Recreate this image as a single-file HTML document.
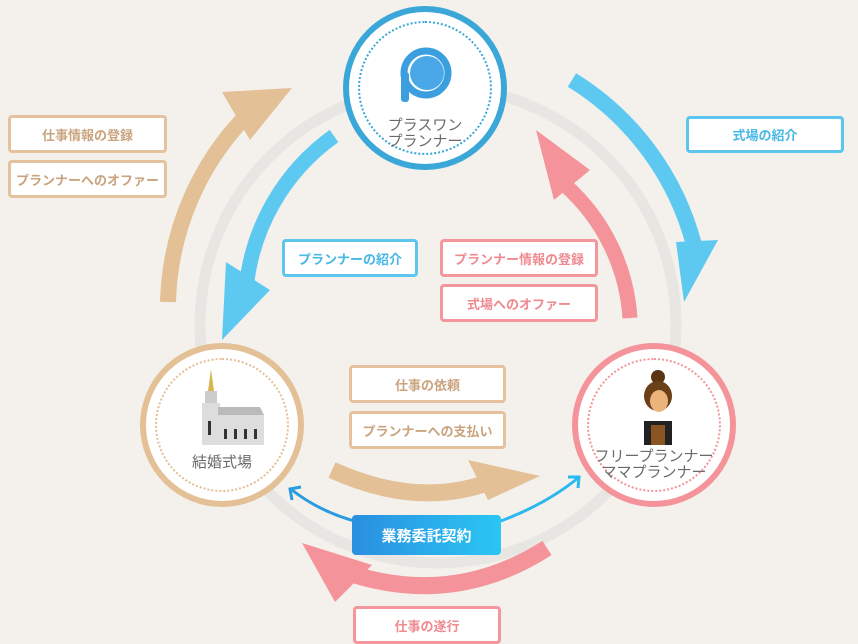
<!DOCTYPE html>
<html><head><meta charset="utf-8"><style>
body{margin:0;width:858px;height:644px;background:#f4f1ed;overflow:hidden;font-family:"Liberation Sans","Noto Sans CJK JP",sans-serif;position:relative}
.b{position:absolute;box-sizing:border-box;border:3px solid;border-radius:4px;background:#fff;display:flex;align-items:center;justify-content:center;font-size:13px;font-weight:bold}
.t{border-color:#e4c29e;color:#c9a47e}.bl{border-color:#5cc6ee;color:#48b8e6}.p{border-color:#f4979c;color:#ef8a90}
.c{position:absolute;width:164px;height:164px;border-radius:50%;background:#fff;box-sizing:border-box;border:6px solid}
.c .in{position:absolute;left:9px;top:9px;right:9px;bottom:9px;border-radius:50%;border:2px dotted}
.lbl{position:absolute;width:100%;text-align:center;color:#6a6a6a;font-size:15px;line-height:16px}
</style></head><body>
<svg width="858" height="644" style="position:absolute;left:0;top:0">
<circle cx="438" cy="325" r="238" fill="none" stroke="#e8e6e3" stroke-width="11"/>
<path d="M168 302 A278 278 0 0 1 250 112" fill="none" stroke="#e3c095" stroke-width="16"/>
<polygon points="222,92 292,88 250,140" fill="#e3c095"/>
<path d="M334 136 A212 212 0 0 0 246 290" fill="none" stroke="#5ec9f0" stroke-width="15"/>
<polygon points="222,340 226,262 270,290" fill="#5ec9f0"/>
<path d="M572 80 A276 276 0 0 1 694 245" fill="none" stroke="#5ec9f0" stroke-width="16"/>
<polygon points="676,242 718,240 684,302" fill="#5ec9f0"/>
<path d="M630 318 A195 195 0 0 0 565 185" fill="none" stroke="#f4949a" stroke-width="15"/>
<polygon points="536,130 554,200 590,170" fill="#f4949a"/>
<path d="M332 470 Q420 510 495 480" fill="none" stroke="#e3c095" stroke-width="17"/>
<polygon points="468,460 540,476 488,500" fill="#e3c095"/>
<path d="M547 548 Q450 610 340 570" fill="none" stroke="#f4949a" stroke-width="17"/>
<polygon points="302,543 372,565 335,602" fill="#f4949a"/>
<path d="M292 490 Q320 512 358 522" fill="none" stroke="#2a9be0" stroke-width="3"/>
<path d="M498 522 Q545 505 578 478" fill="none" stroke="#2ab8ee" stroke-width="3"/>
<polyline points="292,500 290,489 301,487" fill="none" stroke="#2a9be0" stroke-width="3"/>
<polyline points="568,477 579,477 578,488" fill="none" stroke="#2ab8ee" stroke-width="3"/>
</svg>
<div class="c" style="left:343px;top:6px;border-color:#3aa7d8"><div class="in" style="border-color:#3aa7d8"></div>
<svg style="position:absolute;left:44px;top:32px" width="66" height="66"><circle cx="33" cy="29" r="22" fill="none" stroke="#3b9fdf" stroke-width="7"/><circle cx="34" cy="29" r="17" fill="#4aa8e8"/><rect x="8" y="28" width="8" height="30" rx="3" fill="#3b9fdf"/></svg>
<div class="lbl" style="top:106px">プラスワン<br>プランナー</div></div>
<div class="c" style="left:140px;top:343px;border-color:#e3c095"><div class="in" style="border-color:#e3c095"></div>
<svg style="position:absolute;left:48px;top:20px" width="75" height="80"><polygon points="17,0 14,22 20,22" fill="#d7b650"/><rect x="11" y="22" width="12" height="12" fill="#ccc"/><rect x="8" y="34" width="18" height="42" fill="#ddd"/><rect x="24" y="46" width="46" height="30" fill="#ddd"/><polygon points="24,46 70,46 66,38 24,38" fill="#bbb"/><rect x="30" y="60" width="3" height="10" fill="#333"/><rect x="40" y="60" width="3" height="10" fill="#333"/><rect x="50" y="60" width="3" height="10" fill="#333"/><rect x="60" y="60" width="3" height="10" fill="#333"/><rect x="14" y="52" width="3" height="14" fill="#333"/></svg>
<div class="lbl" style="top:106px;font-size:15px">結婚式場</div></div>
<div class="c" style="left:572px;top:343px;border-color:#f4949a"><div class="in" style="border-color:#f4949a"></div>
<svg style="position:absolute;left:60px;top:20px" width="40" height="78"><circle cx="20" cy="8" r="7" fill="#5a3413"/><ellipse cx="20" cy="27" rx="14" ry="15" fill="#6b3f17"/><ellipse cx="21" cy="32" rx="9" ry="11" fill="#eab47a"/><rect x="6" y="52" width="28" height="24" fill="#222"/><rect x="13" y="56" width="14" height="20" fill="#8a5522"/></svg>
<div class="lbl" style="top:100px">フリープランナー<br>ママプランナー</div></div>
<div class="b t" style="left:8px;top:115px;width:159px;height:38px">仕事情報の登録</div>
<div class="b t" style="left:8px;top:160px;width:159px;height:38px">プランナーへのオファー</div>
<div class="b bl" style="left:686px;top:116px;width:158px;height:37px">式場の紹介</div>
<div class="b bl" style="left:282px;top:239px;width:136px;height:38px">プランナーの紹介</div>
<div class="b p" style="left:440px;top:239px;width:158px;height:38px">プランナー情報の登録</div>
<div class="b p" style="left:440px;top:284px;width:158px;height:38px">式場へのオファー</div>
<div class="b t" style="left:349px;top:365px;width:157px;height:38px">仕事の依頼</div>
<div class="b t" style="left:349px;top:411px;width:157px;height:38px">プランナーへの支払い</div>
<div class="b" style="left:352px;top:515px;width:149px;height:40px;border:none;background:linear-gradient(90deg,#2a8fe0,#2ac6f4);color:#fff;font-size:15px">業務委託契約</div>
<div class="b p" style="left:353px;top:606px;width:148px;height:38px">仕事の遂行</div>
</body></html>
